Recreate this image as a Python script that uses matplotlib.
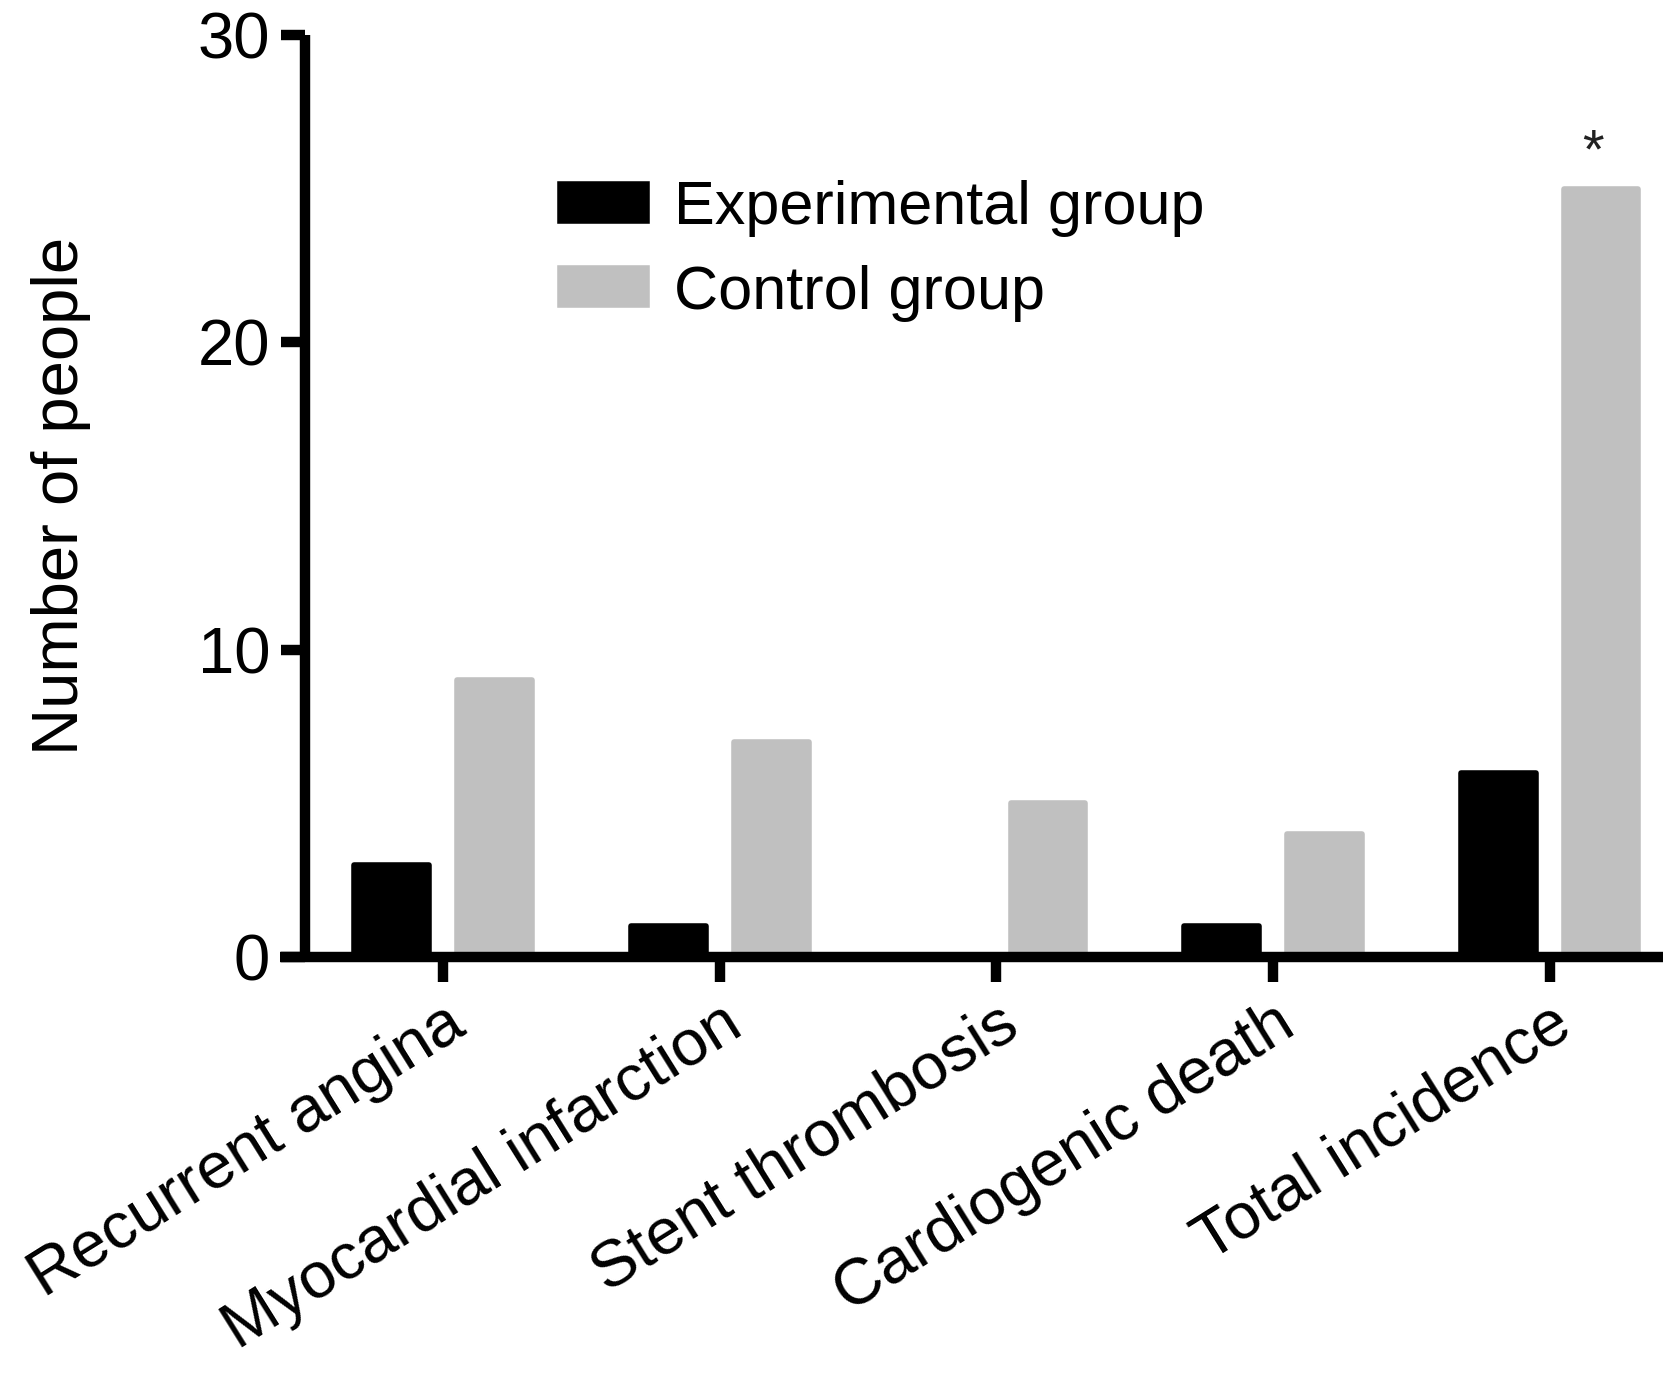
import matplotlib
matplotlib.use("Agg")
import matplotlib.pyplot as plt
import numpy as np

categories = ["Recurrent angina", "Myocardial infarction", "Stent thrombosis",
              "Cardiogenic death", "Total incidence"]
experimental = [3, 1, 0, 1, 6]
control = [9, 7, 5, 4, 25]
series_names = ["Experimental group", "Control group"]
yticks = [0, 10, 20, 30]

plt.rcParams['font.family'] = ['Liberation Sans', 'DejaVu Sans']

fig = plt.figure(figsize=(16.77, 13.75), dpi=100)
ax = fig.add_axes([0.167, 0.304, 0.8247, 0.6705])

x = np.arange(len(categories))
w = 0.27
off = 0.186
b1 = ax.bar(x - off, experimental, w, color='black', edgecolor='black',
            linewidth=4, joinstyle='round', label=series_names[0], zorder=2)
b2 = ax.bar(x + off, control, w, color='#c0c0c0', edgecolor='#c0c0c0',
            linewidth=4, joinstyle='round', label=series_names[1], zorder=2)

ax.text(x[-1] + off - 0.03, control[-1] + 0.3, '*', ha='center', va='bottom',
        fontsize=40, color='#222222')

ax.set_xlim(-0.59, 4.41)
ax.set_ylim(0, 30)
ax.spines['left'].set_position(('data', -0.5))
ax.spines['left'].set_bounds(0, 30)
for s in ['top', 'right']:
    ax.spines[s].set_visible(False)
for s in ['left', 'bottom']:
    ax.spines[s].set_linewidth(7.5)
    ax.spines[s].set_capstyle('butt')

ax.set_yticks(yticks)
ax.set_yticklabels([str(v) for v in yticks], fontsize=47)
ax.tick_params(axis='y', length=17, width=7.5, pad=8)
ax.set_xticks(x)
ax.set_xticklabels(categories, fontsize=47, rotation=32, ha='right',
                   rotation_mode='anchor')
ax.tick_params(axis='x', length=18, width=7.5, pad=8)

ax.set_ylabel("Number of people", fontsize=47)
ax.yaxis.set_label_coords(-0.137, 0.5)

leg = ax.legend(loc='upper left', bbox_to_anchor=(560/1677, 1 - 180/1375),
                bbox_transform=fig.transFigure, frameon=False, fontsize=44,
                handlelength=1.42, handleheight=0.55, handletextpad=0.45,
                labelspacing=0.45, borderpad=0, borderaxespad=0)

fig.savefig("out.png", dpi=100)
